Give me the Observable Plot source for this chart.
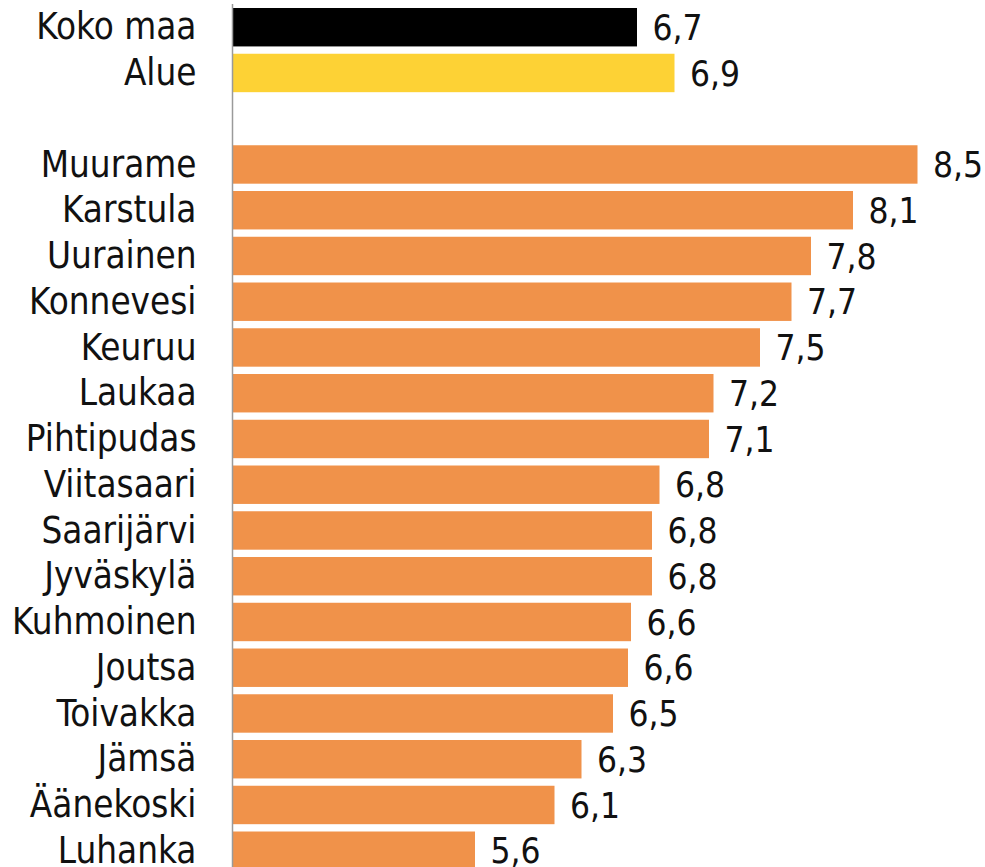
<!DOCTYPE html>
<html>
<head>
<meta charset="utf-8">
<script src="https://cdn.jsdelivr.net/npm/d3@7"></script>
<script src="https://cdn.jsdelivr.net/npm/@observablehq/plot@0.6"></script>
<style>
  html, body { margin: 0; padding: 0; background: #fff; }
  #chart { width: 985px; height: 867px; overflow: hidden; }
</style>
</head>
<body>
<div id="chart"></div>
<script>
// Reference rows
const refNames = ["Koko maa", "Alue"];
const refValues = [6.66, 6.91];
const refColors = ["#000000", "#FDD235"];

// Municipalities
const municipalities = ["Muurame", "Karstula", "Uurainen", "Konnevesi", "Keuruu", "Laukaa", "Pihtipudas",
  "Viitasaari", "Saarijärvi", "Jyväskylä", "Kuhmoinen", "Joutsa", "Toivakka", "Jämsä", "Äänekoski", "Luhanka"];
const municipalityValues = [8.53, 8.10, 7.82, 7.69, 7.48, 7.17, 7.14,
  6.81, 6.76, 6.76, 6.62, 6.60, 6.50, 6.29, 6.11, 5.58];
const municipalityColor = "#F0924A";

const gap = " ";
const categories = [...refNames, gap, ...municipalities];
const xDomain = [3.96, 8.96];

const data = [
  ...refNames.map((n, i) => ({name: n, value: refValues[i], color: refColors[i]})),
  ...municipalities.map((n, i) => ({name: n, value: municipalityValues[i], color: municipalityColor}))
];

const fmt = v => d3.format(".1f")(v).replace(".", ",");
const font = "'DejaVu Sans Condensed', 'Open Sans', sans-serif";

const chart = Plot.plot({
  width: 985,
  height: 867,
  marginLeft: 232,
  marginRight: 3,
  marginTop: 4,
  marginBottom: 0,
  style: {fontFamily: font, fontSize: "36px", color: "#111", background: "#fff"},
  x: {domain: xDomain, range: [232, 982], axis: null},
  y: {domain: categories, range: [4.34, 873.6], paddingInner: 0.16, paddingOuter: 0.08, round: false, axis: null, label: null},
  marks: [
    Plot.barX(data, {y: "name", x1: () => xDomain[0], x2: "value", fill: "color"}),
    Plot.text(data, {y: "name", x: "value", text: d => fmt(d.value), textAnchor: "start", dx: 15,
      fontSize: 35, fill: "#111", fontFamily: font, dy: 1}),
    Plot.axisY({tickSize: 0, tickPadding: 36, fontSize: 36.5, fill: "#111", label: null, tickFormat: d => d}),
    Plot.ruleX([xDomain[0]], {stroke: "#9a9a9a", strokeWidth: 1.5})
  ]
});
document.getElementById("chart").appendChild(chart);
</script>
</body>
</html>
